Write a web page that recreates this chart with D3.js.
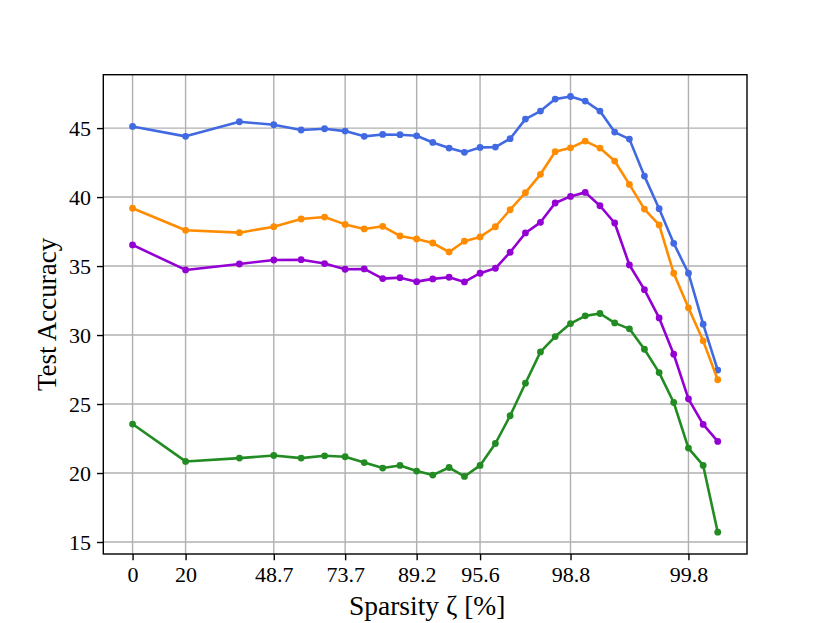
<!DOCTYPE html>
<html>
<head>
<meta charset="utf-8">
<script src="https://cdn.jsdelivr.net/npm/d3@7"></script>
<style>
  html, body { margin: 0; padding: 0; background: #fff; }
  svg text { font-family: "Liberation Serif", "DejaVu Serif", serif; fill: #000; }
</style>
</head>
<body>
<svg id="chart" width="830" height="623"></svg>
<script>
// Plotting position of each pruning round along the x axis
const xPos = [0, 3.53, 7.11, 9.40, 11.22, 12.78, 14.15, 15.42, 16.65, 17.80,
  18.91, 19.98, 21.07, 22.09, 23.13, 24.15, 25.13, 26.15, 27.15, 28.13,
  29.15, 30.13, 31.11, 32.09, 33.07, 34.07, 35.05, 36.02, 37.00, 37.98, 38.95];

// Tick positions (index into xPos) and their labels (sparsity %)
const tickIndex = [0, 1, 3, 6, 10, 14, 20, 28];
const tickLabels = ["0", "20", "48.7", "73.7", "89.2", "95.6", "98.8", "99.8"];
const yTicks = [15, 20, 25, 30, 35, 40, 45];

const blue = [45.12, 44.40, 45.46, 45.24, 44.86, 44.95, 44.78, 44.40, 44.54, 44.52,
  44.44, 43.96, 43.55, 43.24, 43.60, 43.62, 44.23, 45.65, 46.23, 47.10,
  47.29, 46.96, 46.23, 44.71, 44.20, 41.52, 39.16, 36.65, 34.48, 30.79, 27.46];
const orange = [39.19, 37.59, 37.42, 37.85, 38.41, 38.55, 38.02, 37.69, 37.88, 37.18,
  36.96, 36.67, 36.02, 36.80, 37.11, 37.85, 39.08, 40.32, 41.65, 43.29,
  43.57, 44.06, 43.55, 42.61, 40.92, 39.13, 37.98, 34.48, 31.97, 29.58, 26.76];
const purple = [36.53, 34.72, 35.15, 35.44, 35.46, 35.18, 34.77, 34.79, 34.09, 34.16,
  33.87, 34.07, 34.19, 33.85, 34.48, 34.84, 36.00, 37.40, 38.17, 39.57,
  40.05, 40.34, 39.37, 38.12, 35.08, 33.29, 31.24, 28.61, 25.38, 23.52, 22.29];
const green = [23.55, 20.84, 21.08, 21.27, 21.08, 21.25, 21.18, 20.76, 20.36, 20.55,
  20.14, 19.85, 20.40, 19.75, 20.55, 22.14, 24.15, 26.51, 28.78, 29.89,
  30.83, 31.39, 31.56, 30.88, 30.45, 28.97, 27.28, 25.11, 21.81, 20.55, 15.71];

const seriesList = [
  { values: blue, color: "#4169e1" },
  { values: orange, color: "#ff8c00" },
  { values: purple, color: "#9400d3" },
  { values: green, color: "#228b22" }
];

const svg = d3.select("#chart");
const L = 103.3, R = 747, T = 74.7, B = 554;

function padded(ext) {
  const p = (ext[1] - ext[0]) * 0.05;
  return [ext[0] - p, ext[1] + p];
}
const allY = [].concat(blue, orange, purple, green);
const x = d3.scaleLinear().domain(padded(d3.extent(xPos))).range([L, R]);
const y = d3.scaleLinear().domain(padded(d3.extent(allY))).range([B, T]);

const tickVals = tickIndex.map(i => xPos[i]);

// grid
const grid = svg.append("g");
grid.selectAll("line.gx").data(tickVals).join("line")
  .attr("x1", d => x(d)).attr("x2", d => x(d))
  .attr("y1", T).attr("y2", B)
  .attr("stroke", "#b0b0b0").attr("stroke-width", 1.4);
grid.selectAll("line.gy").data(yTicks).join("line")
  .attr("y1", d => y(d)).attr("y2", d => y(d))
  .attr("x1", L).attr("x2", R)
  .attr("stroke", "#b0b0b0").attr("stroke-width", 1.4);

// series
const line = d3.line().x((d, i) => x(xPos[i])).y(d => y(d));
seriesList.forEach(s => {
  const g = svg.append("g");
  g.append("path").datum(s.values)
    .attr("d", line).attr("fill", "none")
    .attr("stroke", s.color).attr("stroke-width", 2.6)
    .attr("stroke-linejoin", "round").attr("stroke-linecap", "square");
  g.selectAll("circle").data(s.values).join("circle")
    .attr("cx", (d, i) => x(xPos[i])).attr("cy", d => y(d))
    .attr("r", 3.4).attr("fill", s.color);
});

// frame
svg.append("rect").attr("x", L).attr("y", T)
  .attr("width", R - L).attr("height", B - T)
  .attr("fill", "none").attr("stroke", "#000").attr("stroke-width", 1.4);

// axes
const xAxis = d3.axisBottom(x).tickValues(tickVals)
  .tickFormat((d, i) => tickLabels[i]).tickSize(6.3).tickPadding(6);
const gx = svg.append("g").attr("transform", `translate(0,${B})`).call(xAxis);
gx.select(".domain").remove();
gx.selectAll(".tick line").attr("stroke", "#000").attr("stroke-width", 1.4);
gx.selectAll(".tick text").attr("font-size", 22).attr("font-family", "Liberation Serif");

const yAxis = d3.axisLeft(y).tickValues(yTicks).tickSize(6.3).tickPadding(6);
const gy = svg.append("g").attr("transform", `translate(${L},0)`).call(yAxis);
gy.select(".domain").remove();
gy.selectAll(".tick line").attr("stroke", "#000").attr("stroke-width", 1.4);
gy.selectAll(".tick text").attr("font-size", 22).attr("font-family", "Liberation Serif");

// labels
svg.append("text").attr("x", (L + R) / 2 + 2).attr("y", 615)
  .attr("text-anchor", "middle").attr("font-size", 27.5)
  .text("Sparsity ζ [%]");
svg.append("text")
  .attr("transform", `translate(56,${(T + B) / 2}) rotate(-90)`)
  .attr("text-anchor", "middle").attr("font-size", 27)
  .text("Test Accuracy");
</script>
</body>
</html>
